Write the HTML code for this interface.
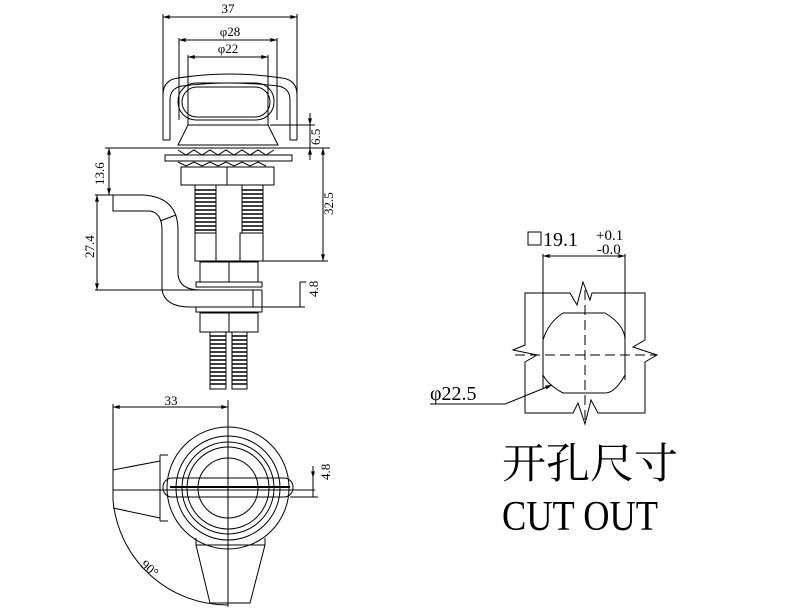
<!DOCTYPE html>
<html><head><meta charset="utf-8"><style>
html,body{margin:0;padding:0;background:#fff;width:809px;height:613px;overflow:hidden}
svg text{font-family:"Liberation Serif","Noto Serif CJK SC",serif;fill:#000}
</style></head><body>
<svg width="809" height="613" viewBox="0 0 809 613" xmlns="http://www.w3.org/2000/svg">
<defs>
<marker id="a" viewBox="0 0 10 6" refX="10" refY="3" markerWidth="8" markerHeight="4" orient="auto-start-reverse"><path d="M0,0L10,3L0,6z" fill="#000"/></marker>
</defs>
<g stroke="#000" stroke-width="1" fill="none">
<!-- top dims -->
<line x1="163" y1="17" x2="297" y2="17" marker-start="url(#a)" marker-end="url(#a)"/>
<line x1="163" y1="14" x2="163" y2="140"/><line x1="297" y1="14" x2="297" y2="140"/>
<line x1="179" y1="40" x2="277" y2="40" marker-start="url(#a)" marker-end="url(#a)"/>
<line x1="179" y1="38" x2="179" y2="120"/><line x1="277" y1="38" x2="277" y2="120"/>
<line x1="188" y1="57" x2="268" y2="57" marker-start="url(#a)" marker-end="url(#a)"/>
<line x1="188" y1="55" x2="188" y2="125"/><line x1="268" y1="55" x2="268" y2="125"/>
<!-- handle -->
<path d="M163,140 L163,95 Q163,80 178,78 Q230,70 282,78 Q297,80 297,95 L297,140"/>
<path d="M170,140 L170,100 Q170,88 182,86 Q230,80 278,86 Q290,88 290,100 L290,140"/>
<path d="M163,140 L170,140 M290,140 L297,140"/>
<rect x="178" y="83" width="96" height="37" rx="18"/>
<rect x="182" y="87" width="88" height="30" rx="15"/>
<path d="M188,125 L268,125 L278,145 L178,145 Z"/>
<line x1="105" y1="148" x2="330" y2="148"/>
<line x1="270" y1="125" x2="315" y2="125"/>
<!-- flange -->
<rect x="165" y="155" width="127" height="6"/>
<path d="M178,150 l8,5 l8,-5 l8,5 l8,-5 l8,5 l8,-5 l8,5 l8,-5 l8,5 l8,-5 l8,5 l8,-5 M178,162 l8,4 l8,-4 l8,4 l8,-4 l8,4 l8,-4 l8,4 l8,-4 l8,4 l8,-4 l8,4"/>
<!-- nut -->
<rect x="181" y="167" width="93" height="18"/>
<line x1="227" y1="167" x2="227" y2="185"/>
<!-- springs -->
<rect x="195" y="185" width="21" height="48"/><rect x="242" y="185" width="21" height="48"/>
<path d="M195,190h21M195,194h21M195,198h21M195,202h21M195,206h21M195,210h21M195,214h21M195,218h21M195,222h21M195,226h21M195,230h21M242,190h21M242,194h21M242,198h21M242,202h21M242,206h21M242,210h21M242,214h21M242,218h21M242,222h21M242,226h21M242,230h21" stroke-width="1.5"/>
<rect x="195" y="233" width="21" height="28"/><rect x="240" y="233" width="23" height="28"/>
<line x1="216" y1="261" x2="240" y2="261"/>
<!-- right dims -->
<line x1="323" y1="148" x2="323" y2="261" marker-start="url(#a)" marker-end="url(#a)"/>
<line x1="263" y1="261" x2="328" y2="261"/>
<line x1="310" y1="113" x2="310" y2="125" marker-end="url(#a)"/>
<line x1="310" y1="160" x2="310" y2="148" marker-end="url(#a)"/>
<line x1="310" y1="125" x2="310" y2="148"/>
<!-- left dims -->
<line x1="109" y1="148" x2="109" y2="195" marker-start="url(#a)" marker-end="url(#a)"/>
<line x1="97" y1="195" x2="97" y2="290" marker-start="url(#a)" marker-end="url(#a)"/>
<line x1="95" y1="195" x2="113" y2="195"/>
<line x1="95" y1="290" x2="262" y2="290"/>
<!-- bracket -->
<path d="M113,195 L143,195 Q178,197 178,230 L178,275 Q180,290 200,290"/>
<path d="M113,195 L113,211 L150,211 Q162,213 162,230 L162,290 Q165,307 190,307 L262,307 L262,290"/>
<line x1="160" y1="221" x2="176" y2="215"/>
<line x1="253" y1="290" x2="253" y2="307"/>
<line x1="262" y1="307" x2="305" y2="307"/>
<line x1="300" y1="282" x2="300" y2="307"/><line x1="300" y1="282" x2="306" y2="282"/>
<!-- nut2 -->
<rect x="200" y="262" width="58" height="20"/><line x1="229" y1="262" x2="229" y2="282"/>
<rect x="196" y="282" width="66" height="5"/>
<rect x="196" y="307" width="66" height="5"/>
<rect x="200" y="313" width="58" height="19"/><line x1="229" y1="313" x2="229" y2="332"/>
<rect x="210" y="332" width="16" height="57"/><rect x="232" y="332" width="15" height="57"/>
<path d="M210,336h16M210,340h16M210,344h16M210,348h16M210,352h16M210,356h16M210,360h16M210,364h16M210,368h16M210,372h16M210,376h16M210,380h16M210,384h16M232,336h15M232,340h15M232,344h15M232,348h15M232,352h15M232,356h15M232,360h15M232,364h15M232,368h15M232,372h15M232,376h15M232,380h15M232,384h15" stroke-width="1.5"/>
<!-- bottom view -->
<line x1="113" y1="407" x2="228" y2="407" marker-start="url(#a)" marker-end="url(#a)"/>
<line x1="113" y1="404" x2="113" y2="500"/>
<line x1="228" y1="400" x2="228" y2="607"/>
<line x1="113" y1="490" x2="315" y2="490"/>
<circle cx="228" cy="488" r="61"/>
<circle cx="228" cy="488" r="52"/>
<circle cx="228" cy="488" r="46"/>
<circle cx="228" cy="488" r="41"/>
<circle cx="228" cy="488" r="30"/>
<rect x="163" y="478" width="130" height="19" rx="9"/>
<line x1="170" y1="487" x2="290" y2="487" stroke-width="2"/>
<path d="M113,470 L160,461 L160,518 L113,508"/>
<path d="M160,455 L168,455 M160,521 L168,521 M160,455 L160,461 M160,518 L160,521"/>
<path d="M196,545 L265,545 L250,603 L210,603 Z"/>
<path d="M196,545 L196,538 M265,545 L265,538"/>
<path d="M113,500 A115,115 0 0 0 228,605"/>
<line x1="313" y1="466" x2="313" y2="478" marker-end="url(#a)"/>
<line x1="313" y1="497" x2="313" y2="478"/>
<line x1="290" y1="497" x2="318" y2="497"/>
<!-- cutout -->
<line x1="543" y1="256" x2="625" y2="256" marker-start="url(#a)" marker-end="url(#a)"/>
<line x1="543" y1="254" x2="543" y2="388"/><line x1="625" y1="254" x2="625" y2="380"/>
<path d="M525,293 L570,293 L577,305 L583,282 L590,300 L592,293 L645,293 L645,340 L633,347 L657,355 L645,362 L645,413 L598,413 L591,400 L585,424 L578,403 L573,413 L525,413 L525,362 L537,355 L513,350 L525,345 Z"/>
<path d="M563,313 L605,313 Q625,325 625,340 L625,375 Q615,393 605,393 L563,393 Q548,385 543,375 L543,340 Q548,323 563,313 Z"/>
<path d="M585,290 L585,425 M515,355 L657,355" stroke-dasharray="10,5"/>
<line x1="430" y1="404" x2="505" y2="404"/>
<line x1="505" y1="404" x2="552" y2="385" marker-end="url(#a)"/>
<rect x="528" y="232" width="13" height="13"/>
</g>
<g font-size="13">
<text x="228" y="13" text-anchor="middle">37</text>
<text x="230" y="36" text-anchor="middle">φ28</text>
<text x="228" y="53" text-anchor="middle">φ22</text>
<text x="171" y="405" text-anchor="middle">33</text>
<text transform="translate(104,185) rotate(-90)">13.6</text>
<text transform="translate(94,258) rotate(-90)">27.4</text>
<text transform="translate(320,145) rotate(-90)">6.5</text>
<text transform="translate(333,215) rotate(-90)">32.5</text>
<text transform="translate(318,297) rotate(-90)">4.8</text>
<text transform="translate(330,480) rotate(-90)">4.8</text>
<text transform="translate(140,566) rotate(40)">90°</text>
</g>
<text x="543" y="246" font-size="20">19.1</text>
<text x="596" y="240" font-size="15">+0.1</text>
<text x="597" y="254" font-size="15">-0.0</text>
<text x="430" y="400" font-size="20">φ22.5</text>
<text x="502" y="478" font-size="42" textLength="176" lengthAdjust="spacingAndGlyphs">开孔尺寸</text>
<text x="502" y="530" font-size="42" textLength="156" lengthAdjust="spacingAndGlyphs">CUT OUT</text>
</svg>
</body></html>
